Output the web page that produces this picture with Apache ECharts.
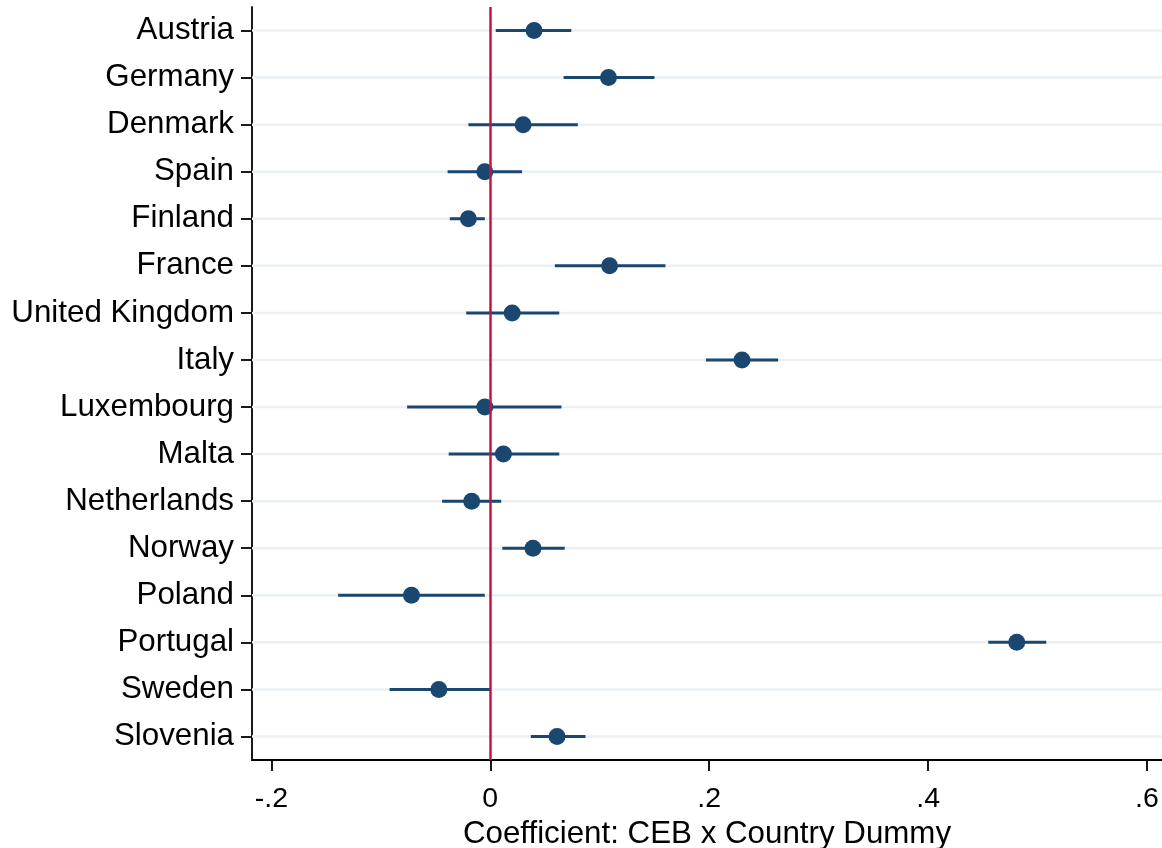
<!DOCTYPE html>
<html>
<head>
<meta charset="utf-8">
<script src="https://cdn.jsdelivr.net/npm/echarts@6/dist/echarts.min.js"></script>
<style>
html,body{margin:0;padding:0;background:#fff;}
#chart{width:1162px;height:848px;}
</style>
</head>
<body>
<div id="chart"></div>
<script>
const countries = ['Austria','Germany','Denmark','Spain','Finland','France','United Kingdom','Italy','Luxembourg','Malta','Netherlands','Norway','Poland','Portugal','Sweden','Slovenia'];
const coef  = [0.040, 0.108, 0.030, -0.005, -0.020, 0.109, 0.020, 0.230, -0.005, 0.012, -0.017, 0.039, -0.072, 0.481, -0.047, 0.061];
const lower = [0.005, 0.067, -0.020, -0.039, -0.037, 0.059, -0.022, 0.197, -0.076, -0.038, -0.044, 0.011, -0.139, 0.455, -0.092, 0.037];
const upper = [0.074, 0.150, 0.080, 0.029, -0.005, 0.160, 0.063, 0.263, 0.065, 0.063, 0.010, 0.068, -0.005, 0.508, 0.000, 0.087];
const tickValues = [-0.2, 0, 0.2, 0.4, 0.6];
const tickLabels = ['-.2', '0', '.2', '.4', '.6'];
const xTitle = 'Coefficient: CEB x Country Dummy';

const navy = '#1a476f';
const font = 'Liberation Sans, Arial, sans-serif';

const chart = echarts.init(document.getElementById('chart'), null, {renderer: 'canvas'});
chart.setOption({
  animation: false,
  backgroundColor: '#ffffff',
  grid: {left: 252, right: 0, top: 7, bottom: 88, containLabel: false, outerBoundsMode: 'none'},
  xAxis: {
    type: 'value',
    min: -0.2177,
    max: 0.6137,
    axisLine: {show: true, onZero: false, lineStyle: {color: '#000', width: 1.8}},
    axisTick: {show: true, length: 11, customValues: tickValues, lineStyle: {color: '#000', width: 1.8}},
    axisLabel: {
      customValues: tickValues,
      margin: 25,
      fontSize: 28.5,
      fontFamily: font,
      color: '#000',
      formatter: function (v) {
        for (let i = 0; i < tickValues.length; i++) {
          if (Math.abs(v - tickValues[i]) < 1e-9) return tickLabels[i];
        }
        return '';
      }
    },
    splitLine: {show: false},
    name: xTitle,
    nameLocation: 'middle',
    nameGap: 53,
    nameTextStyle: {fontSize: 31.3, fontFamily: font, color: '#000'}
  },
  yAxis: {
    type: 'category',
    inverse: true,
    data: countries,
    boundaryGap: true,
    axisLine: {show: true, onZero: false, lineStyle: {color: '#000', width: 1.8}},
    axisTick: {show: true, alignWithLabel: true, length: 11, lineStyle: {color: '#000', width: 1.8}},
    axisLabel: {fontSize: 31.3, fontFamily: font, color: '#000', margin: 18, padding: [8, 0, 0, 0]},
    splitLine: {show: false}
  },
  series: [
    {
      name: 'grid',
      type: 'custom',
      silent: true,
      z: 1,
      data: countries.map((c, i) => [i]),
      encode: {y: 0},
      renderItem: function (params, api) {
        const y = api.coord([0, api.value(0)])[1];
        const cs = params.coordSys;
        return {
          type: 'line',
          shape: {x1: cs.x, y1: y, x2: cs.x + cs.width, y2: y},
          style: {stroke: '#eaf0f3', lineWidth: 2.5}
        };
      }
    },
    {
      name: 'ci',
      type: 'custom',
      z: 3,
      data: countries.map((c, i) => [lower[i], upper[i], i]),
      encode: {x: [0, 1], y: 2},
      renderItem: function (params, api) {
        const a = api.coord([api.value(0), api.value(2)]);
        const b = api.coord([api.value(1), api.value(2)]);
        return {
          type: 'line',
          shape: {x1: a[0], y1: a[1], x2: b[0], y2: b[1]},
          style: {stroke: navy, lineWidth: 3}
        };
      }
    },
    {
      name: 'coef',
      type: 'scatter',
      z: 4,
      symbol: 'circle',
      symbolSize: 17,
      itemStyle: {color: navy, opacity: 1},
      data: countries.map((c, i) => [coef[i], i])
    },
    {
      name: 'zero',
      type: 'scatter',
      z: 10,
      data: [],
      markLine: {
        silent: true,
        symbol: ['none', 'none'],
        label: {show: false},
        lineStyle: {color: '#c8143c', width: 2.5, type: 'solid'},
        data: [{xAxis: 0}],
        z: 10
      }
    }
  ]
});
</script>
</body>
</html>
